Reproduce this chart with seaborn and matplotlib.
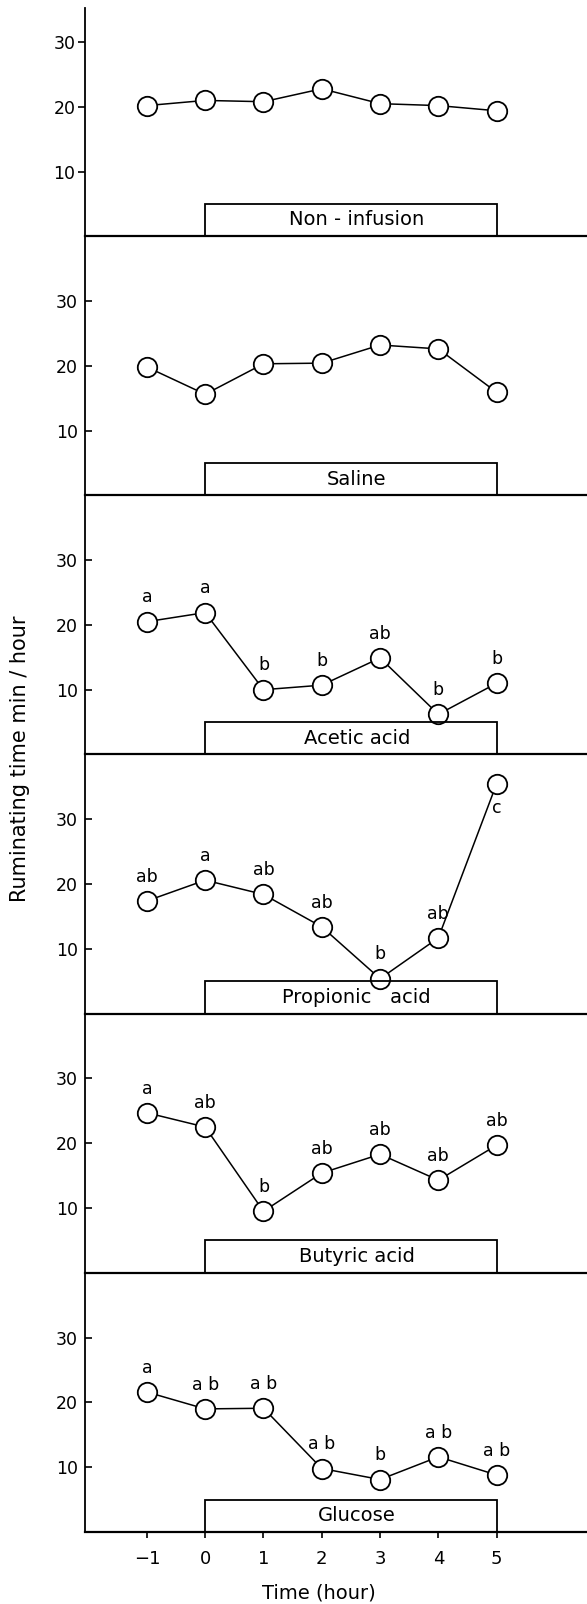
import numpy as np
import pandas as pd
import matplotlib
matplotlib.use("Agg")
import matplotlib.pyplot as plt
from matplotlib.patches import Rectangle
import seaborn as sns

# hours relative to start of infusion
time = [-1, 0, 1, 2, 3, 4, 5]
infusion = [0, 5]  # infusion period (hour)

panels = ["Non - infusion", "Saline", "Acetic acid", "Propionic   acid", "Butyric acid", "Glucose"]

non_infusion = [20.2, 21.0, 20.8, 22.8, 20.5, 20.2, 19.4]
saline = [19.8, 15.6, 20.3, 20.4, 23.2, 22.6, 15.9]
acetic = [20.5, 21.9, 10.0, 10.7, 14.9, 6.2, 11.0]
propionic = [17.4, 20.6, 18.4, 13.4, 5.4, 11.7, 35.5]
butyric = [24.7, 22.5, 9.5, 15.4, 18.3, 14.3, 19.7]
glucose = [21.6, 19.0, 19.1, 9.8, 8.1, 11.6, 8.8]

acetic_sig = ["a", "a", "b", "b", "ab", "b", "b"]
propionic_sig = ["ab", "a", "ab", "ab", "b", "ab", "c"]
butyric_sig = ["a", "ab", "b", "ab", "ab", "ab", "ab"]
glucose_sig = ["a", "a b", "a b", "a b", "b", "a b", "a b"]

values = [non_infusion, saline, acetic, propionic, butyric, glucose]
sigs = [None, None, acetic_sig, propionic_sig, butyric_sig, glucose_sig]

sns.set_style("ticks", {"text.color": "black", "xtick.color": "black",
                        "ytick.color": "black", "axes.edgecolor": "black"})
plt.rcParams["font.family"] = ["DejaVu Sans"]

fig = plt.figure(figsize=(5.87, 16.04), dpi=100)
gs = fig.add_gridspec(6, 1, height_ratios=[228] + [259] * 5, hspace=0,
                      left=0.145, right=1.0, top=1 - 8 / 1604, bottom=1 - 1532 / 1604)

for i in range(6):
    ax = fig.add_subplot(gs[i])
    ax.patch.set_visible(False)
    df = pd.DataFrame({"time": time, "value": values[i]})
    sns.lineplot(data=df, x="time", y="value", ax=ax, color="black", lw=1.1,
                 marker="o", markersize=14, markerfacecolor="white",
                 markeredgecolor="black", markeredgewidth=1.3)
    ax.add_patch(Rectangle((infusion[0], 0), infusion[1] - infusion[0], 5,
                           fill=False, ec="black", lw=1.3, clip_on=False, zorder=3))
    ax.text(2.6, 2.5, panels[i], ha="center", va="center", fontsize=14, color="black")

    if sigs[i] is not None:
        for t, v, s in zip(time, values[i], sigs[i]):
            if s == "c":
                ax.annotate(s, (t, v), xytext=(0, -11), textcoords="offset points",
                            ha="center", va="top", fontsize=12.5, color="black")
            else:
                ax.annotate(s, (t, v), xytext=(0, 11), textcoords="offset points",
                            ha="center", va="bottom", fontsize=12.5, color="black")

    ax.set_xlim(-2.06, 6.55)
    ax.set_ylim(0, 35.3 if i == 0 else 40)
    ax.set_yticks([10, 20, 30])
    ax.tick_params(axis="y", labelsize=12.5, length=5, width=1.2, colors="black",
                   direction="out" if i == 0 else "in", pad=2 if i == 0 else 5)
    sns.despine(ax=ax)
    ax.spines["left"].set_linewidth(1.3)
    ax.spines["bottom"].set_linewidth(1.6)
    ax.set_xlabel("")
    ax.set_ylabel("")
    if i < 5:
        ax.set_xticks([])
    else:
        ax.set_xticks(time)
        ax.set_xticklabels(["\u22121" if t < 0 else str(t) for t in time])
        ax.tick_params(axis="x", labelsize=13, length=4, width=1.2, pad=9, colors="black")

fig.text(0.034, 0.527, "Ruminating time min / hour", rotation=90,
         ha="center", va="center", fontsize=15, color="black")
fig.text(0.543, 0.007, "Time (hour)", ha="center", va="center", fontsize=14, color="black")

fig.savefig("out.png", dpi=100)
